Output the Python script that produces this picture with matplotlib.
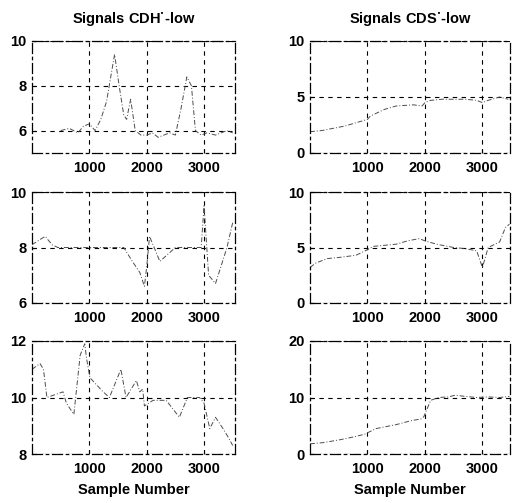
import matplotlib
matplotlib.use("Agg")
import matplotlib.pyplot as plt

plt.rcParams['font.family'] = ['Liberation Sans', 'DejaVu Sans']
plt.rcParams['font.weight'] = 'bold'

titles = ["Signals CDH$^{\\bullet}$-low", "Signals CDS$^{\\bullet}$-low"]
xlabel_text = "Sample Number"
xticks = [1000, 2000, 3000]

# Left column signals (CDH*-low)
cdh1_x = [500, 650, 800, 900, 1000, 1100, 1200, 1300, 1440, 1520, 1600, 1650, 1720, 1800, 1900, 2000, 2100, 2200, 2300, 2400, 2500, 2600, 2700, 2780, 2850, 2950, 3050, 3200, 3400, 3500]
cdh1_y = [6.0, 6.1, 5.9, 6.2, 6.3, 6.0, 6.5, 7.3, 9.4, 8.0, 6.7, 6.5, 7.4, 6.0, 5.8, 5.8, 5.9, 5.7, 5.8, 5.9, 5.8, 7.0, 8.4, 8.0, 6.0, 5.8, 5.9, 5.8, 6.0, 5.9]
cdh2_x = [0, 150, 230, 350, 450, 700, 1000, 1300, 1600, 1750, 1880, 1960, 2000, 2050, 2230, 2500, 2800, 2950, 3000, 3080, 3200, 3400, 3500]
cdh2_y = [8.1, 8.3, 8.4, 8.1, 8.0, 8.0, 8.0, 8.0, 8.0, 7.5, 7.1, 6.6, 7.3, 8.4, 7.5, 8.0, 8.0, 8.0, 9.5, 7.0, 6.7, 8.0, 8.9]
cdh3_x = [0, 140, 200, 260, 540, 600, 730, 840, 920, 950, 1010, 1240, 1350, 1470, 1550, 1640, 1760, 1820, 1880, 1930, 1960, 2110, 2340, 2570, 2710, 2920, 3000, 3100, 3200, 3330, 3420, 3500]
cdh3_y = [11.0, 11.2, 11.0, 10.0, 10.2, 9.8, 9.4, 11.5, 11.9, 11.4, 10.7, 10.2, 10.0, 10.6, 11.0, 10.0, 10.4, 10.6, 10.2, 10.3, 9.7, 9.9, 9.9, 9.3, 10.0, 10.0, 9.8, 8.9, 9.3, 8.9, 8.6, 8.3]

# Right column signals (CDS*-low)
cds1_x = [0, 200, 400, 600, 800, 1000, 1050, 1300, 1500, 1800, 1950, 2000, 2100, 2300, 2500, 2700, 2900, 3000, 3100, 3300, 3450]
cds1_y = [1.9, 2.0, 2.2, 2.4, 2.7, 3.0, 3.3, 3.9, 4.2, 4.3, 4.2, 4.5, 4.7, 4.8, 4.8, 4.8, 4.7, 4.5, 4.7, 5.0, 4.8]
cds2_x = [0, 100, 300, 500, 800, 1000, 1100, 1300, 1500, 1700, 1900, 2000, 2200, 2500, 2700, 2900, 3000, 3100, 3300, 3400, 3470]
cds2_y = [3.2, 3.6, 4.0, 4.1, 4.3, 4.8, 5.1, 5.2, 5.3, 5.6, 5.8, 5.6, 5.3, 5.0, 4.9, 4.7, 3.2, 5.0, 5.5, 6.8, 7.1]
cds3_x = [0, 220, 510, 750, 950, 1150, 1500, 1760, 1930, 1980, 2100, 2240, 2400, 2530, 2700, 2900, 3100, 3300, 3470]
cds3_y = [1.8, 2.0, 2.5, 3.0, 3.5, 4.5, 5.2, 5.9, 6.2, 6.6, 9.5, 10.0, 10.1, 10.4, 10.2, 10.0, 10.1, 10.0, 10.2]

ylims = [[(5, 10), (0, 10)], [(6, 10), (0, 10)], [(8, 12), (0, 20)]]
yticks = [[[6, 8, 10], [0, 5, 10]], [[6, 8, 10], [0, 5, 10]], [[8, 10, 12], [0, 10, 20]]]
xlims = [(0, 3540), (0, 3480)]
data = [[(cdh1_x, cdh1_y), (cds1_x, cds1_y)],
        [(cdh2_x, cdh2_y), (cds2_x, cds2_y)],
        [(cdh3_x, cdh3_y), (cds3_x, cds3_y)]]

W, H = 512, 503
fig = plt.figure(figsize=(W / 100, H / 100), dpi=100)

col_lr = [(32, 235), (310, 510)]
row_tb = [(41, 153), (192, 303), (341, 454)]

for r in range(3):
    for c in range(2):
        l, rr = col_lr[c]
        t, b = row_tb[r]
        ax = fig.add_axes([l / W, 1 - b / H, (rr - l) / W, (b - t) / H])
        x, y = data[r][c]
        ax.plot(x, y, color='0.3', lw=0.7, linestyle=(0, (5, 2, 1, 2)))
        ax.set_xlim(*xlims[c])
        ax.set_ylim(*ylims[r][c])
        ax.set_xticks(xticks)
        ax.set_yticks(yticks[r][c])
        ax.grid(True, color='black', lw=0.8, linestyle=(0, (4, 4)))
        for s in ax.spines.values():
            s.set_linestyle((0, (8, 3, 2, 3)))
            s.set_linewidth(0.9)
        ax.tick_params(direction='in', length=3, labelsize=10.5, width=0.8)
        ax.tick_params(axis='x', pad=6)
        ax.tick_params(axis='y', pad=4)
        for lab in ax.get_xticklabels() + ax.get_yticklabels():
            lab.set_fontweight('bold')
        if r == 0:
            ax.set_title(titles[c], fontsize=10.5, fontweight='bold', pad=12)
        if r == 2:
            ax.set_xlabel(xlabel_text, fontsize=10.5, fontweight='bold', labelpad=5)

fig.savefig("out.png", dpi=100)
